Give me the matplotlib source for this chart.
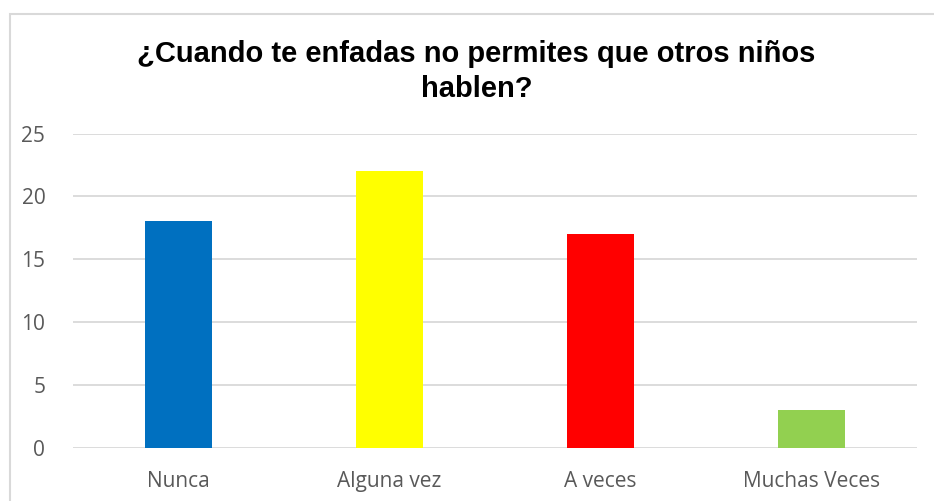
import matplotlib
matplotlib.use('Agg')
import matplotlib.pyplot as plt
from matplotlib.patches import Rectangle

categories = ['Nunca', 'Alguna vez', 'A veces', 'Muchas Veces']
values = [18, 22, 17, 3]
colors = ['#0070C0', '#FFFF00', '#FF0000', '#92D050']
title = '¿Cuando te enfadas no permites que otros niños\nhablen?'

fig = plt.figure(figsize=(9.34, 5.01), dpi=100)
ax = fig.add_axes([0.0782, 0.1064, 0.9036, 0.6271])

ax.bar(range(len(categories)), values, width=0.32, color=colors, zorder=3)
ax.set_xlim(-0.5, len(categories) - 0.5)
ax.set_ylim(0, 25)
ax.set_yticks(range(0, 26, 5))
ax.set_xticks(range(len(categories)))
ax.set_xticklabels(categories)

ax.grid(axis='y', color='#D9D9D9', lw=1.3, zorder=0)
for s in ax.spines.values():
    s.set_visible(False)
ax.tick_params(axis='both', length=0, labelsize=15, colors='#595959')
ax.tick_params(axis='y', pad=20)
ax.tick_params(axis='x', pad=17)
for lab in ax.get_xticklabels() + ax.get_yticklabels():
    lab.set_family('Open Sans')

fig.text(0.51, 0.857, title, ha='center', va='center', fontsize=21,
         fontweight='bold', family='Liberation Sans', linespacing=1.32)

fig.patches.append(Rectangle((0.0102, -0.1), 1.2, 1.073, transform=fig.transFigure,
                             fill=False, ec='#D9D9D9', lw=1.5))

fig.savefig('out.png', dpi=100)
